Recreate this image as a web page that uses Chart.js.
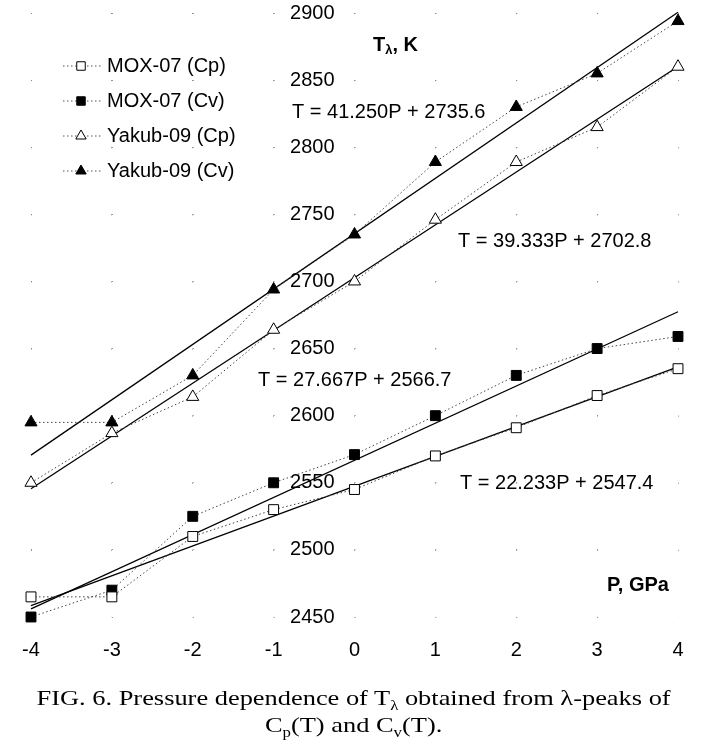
<!DOCTYPE html>
<html>
<head>
<meta charset="utf-8">
<script src="https://cdn.jsdelivr.net/npm/chart.js@4"></script>
<style>
body{margin:0;background:#fff;}
#wrap{width:707px;height:742px;position:relative;overflow:hidden;}
#c{position:absolute;left:0;top:0;}
#cap{position:absolute;left:0;top:684px;width:707px;text-align:center;
font-family:"Liberation Serif","Times New Roman",serif;font-size:22px;line-height:27px;color:#000;
transform:scaleX(1.2);transform-origin:353px 0;}
#cap sub{font-size:14px;line-height:0;}
</style>
</head>
<body>
<div id="wrap">
<canvas id="c" width="707" height="690"></canvas>
<div id="cap">FIG. 6. Pressure dependence of T<sub>λ</sub> obtained from λ-peaks of<br>C<sub>p</sub>(T) and C<sub>v</sub>(T).</div>
</div>
<script>
// pressure, GPa
const pressure = [-4, -3, -2, -1, 0, 1, 2, 3, 4]

// T lambda, K
const moxCp = [2465, 2465, 2510, 2530, 2545, 2570, 2591, 2615, 2635]
const moxCv = [2450, 2470, 2525, 2550, 2571, 2600, 2630, 2650, 2659]
const yakCp = [2550, 2587, 2614, 2664, 2700, 2746, 2789, 2815, 2860]
const yakCv = [2595, 2595, 2630, 2694, 2735, 2789, 2830, 2855, 2894]

// linear fits, end points
const fitP = [-4, 4]
const fitMoxCp = [2458.5, 2636.3]
const fitMoxCv = [2456.0, 2677.4]
const fitYakCp = [2545.5, 2860.1]
const fitYakCv = [2570.6, 2900.6]

const seriesNames = ["MOX-07 (Cp)", "MOX-07 (Cv)", "Yakub-09 (Cp)", "Yakub-09 (Cv)"]
const equations = ["T = 41.250P + 2735.6", "T = 39.333P + 2702.8", "T = 27.667P + 2566.7", "T = 22.233P + 2547.4"]

const FONT = '"Liberation Sans", Arial, sans-serif'

function pts(xs, ys){
  return xs.map((x, i) => ({x: x, y: ys[i]}))
}

function dataSet(label, ys, style, filled){
  return {
    label: label,
    data: pts(pressure, ys),
    showLine: true,
    clip: false,
    borderColor: "#444",
    borderWidth: 1,
    borderDash: [1.5, 2.5],
    pointStyle: style,
    pointRadius: 7,
    pointBorderWidth: 1,
    pointBorderColor: "#000",
    pointBackgroundColor: filled ? "#000" : "#fff"
  }
}

function fitSet(ys){
  return {
    label: "fit",
    data: pts(fitP, ys),
    showLine: true,
    clip: false,
    borderColor: "#000",
    borderWidth: 1.3,
    pointRadius: 0
  }
}

function marker(ctx, style, filled, x, y, r){
  ctx.beginPath()
  if(style === "rect"){
    let s = r * Math.SQRT1_2
    ctx.rect(x - s, y - s, 2 * s, 2 * s)
  } else {
    ctx.moveTo(x, y - r)
    ctx.lineTo(x + r * 0.866, y + r * 0.5)
    ctx.lineTo(x - r * 0.866, y + r * 0.5)
    ctx.closePath()
  }
  ctx.fillStyle = filled ? "#000" : "#fff"
  ctx.fill()
  ctx.strokeStyle = "#000"
  ctx.lineWidth = 1
  ctx.stroke()
}

const textPlugin = {
  id: "texts",
  afterDraw(chart){
    const ctx = chart.ctx
    ctx.save()
    ctx.fillStyle = "#000"
    ctx.textBaseline = "middle"
    ctx.textAlign = "left"

    // equations
    ctx.font = "20px " + FONT
    const eqPos = [[292, 112], [458, 241], [258, 380], [460, 483]]
    equations.forEach((t, i) => ctx.fillText(t, eqPos[i][0], eqPos[i][1]))

    // legend
    const rows = [66, 101, 136, 171]
    for(let i = 0; i < 4; i++){
      const ds = chart.data.datasets[i]
      const y = rows[i]
      ctx.save()
      ctx.strokeStyle = "#555"
      ctx.lineWidth = 1
      ctx.setLineDash([1.5, 2.5])
      ctx.beginPath()
      ctx.moveTo(63, y)
      ctx.lineTo(103, y)
      ctx.stroke()
      ctx.restore()
      marker(ctx, ds.pointStyle, ds.pointBackgroundColor === "#000", 81, y, 6)
      ctx.fillStyle = "#000"
      ctx.font = "20px " + FONT
      ctx.fillText(seriesNames[i], 107, y)
    }

    // axis titles
    ctx.font = "bold 20px " + FONT
    ctx.fillText("P, GPa", 607, 585)
    let x0 = 373
    ctx.fillText("T", x0, 45)
    let w = ctx.measureText("T").width
    ctx.font = "bold 13px " + FONT
    ctx.fillText("λ", x0 + w, 50)
    w += ctx.measureText("λ").width
    ctx.font = "bold 20px " + FONT
    ctx.fillText(", K", x0 + w, 45)
    ctx.restore()
  }
}

new Chart(document.getElementById("c"), {
  type: "scatter",
  data: {
    datasets: [
      dataSet(seriesNames[0], moxCp, "rect", false),
      dataSet(seriesNames[1], moxCv, "rect", true),
      dataSet(seriesNames[2], yakCp, "triangle", false),
      dataSet(seriesNames[3], yakCv, "triangle", true),
      fitSet(fitMoxCp),
      fitSet(fitMoxCv),
      fitSet(fitYakCp),
      fitSet(fitYakCv)
    ]
  },
  options: {
    responsive: false,
    animation: false,
    devicePixelRatio: 1,
    layout: {padding: {left: 31, right: 29, top: 13, bottom: 7}},
    plugins: {
      legend: {display: false},
      tooltip: {enabled: false}
    },
    scales: {
      x: {
        type: "linear",
        min: -4,
        max: 4,
        border: {display: false, dash: [1, 66.1]},
        grid: {color: "#888", lineWidth: 1, drawTicks: false},
        ticks: {stepSize: 1, padding: 21, color: "#000", font: {size: 20, family: FONT}},
        afterFit(scale){ scale.paddingTop = 0; scale.paddingBottom = 0 }
      },
      y: {
        type: "linear",
        position: {x: -0.247},
        min: 2450,
        max: 2900,
        border: {display: false, dash: [1, 79.875]},
        grid: {color: "#888", lineWidth: 1, drawTicks: false},
        ticks: {stepSize: 50, padding: 0, color: "#000", font: {size: 20, family: FONT}, callback: v => String(v)},
        afterFit(scale){ scale.paddingTop = 0; scale.paddingBottom = 0 }
      }
    }
  },
  plugins: [textPlugin]
})
</script>
</body>
</html>
